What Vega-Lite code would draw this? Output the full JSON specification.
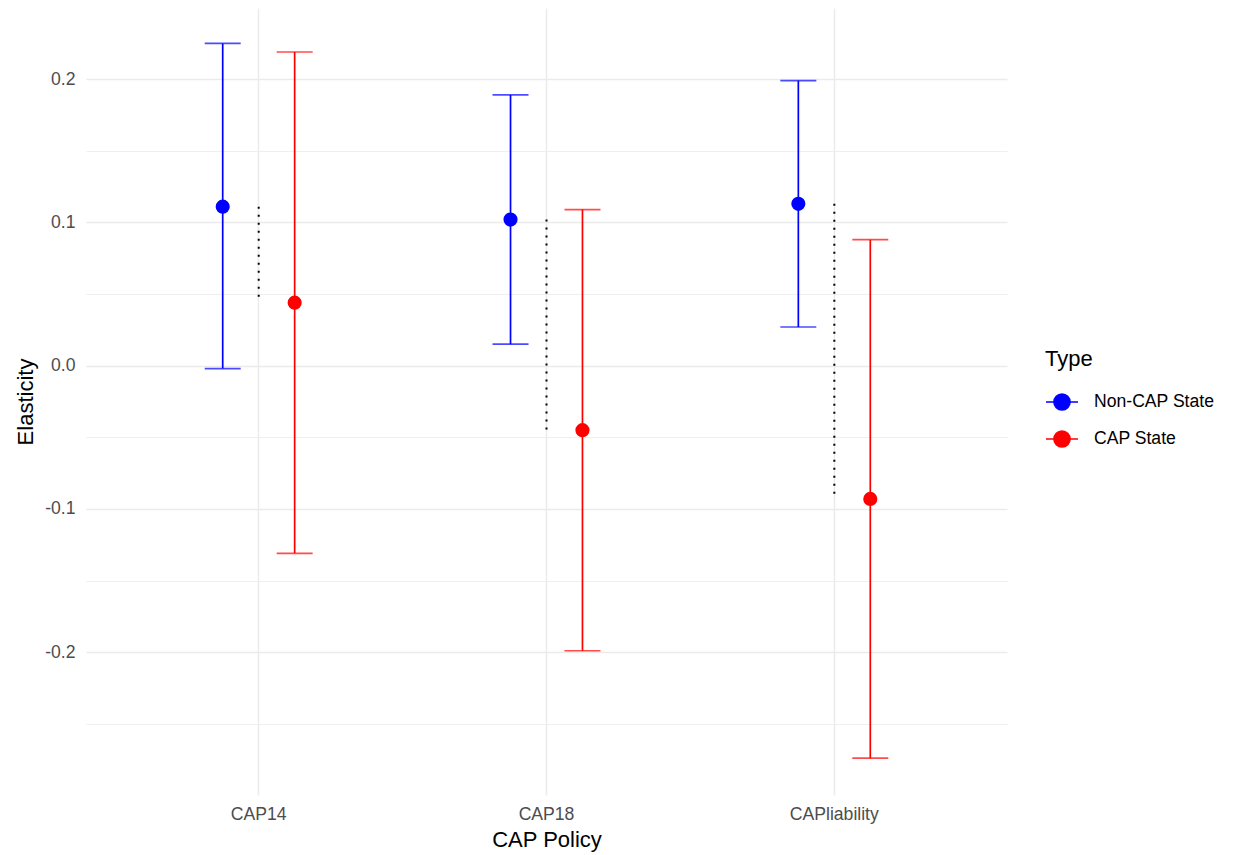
{
  "$schema": "https://vega.github.io/schema/vega-lite/v6.json",
  "width": 921,
  "height": 787,
  "autosize": {"type": "none"},
  "padding": {"left": 86, "top": 8, "right": 226, "bottom": 60},
  "background": "white",
  "config": {
    "view": {"stroke": null},
    "font": "Liberation Sans",
    "axis": {
      "domain": false,
      "ticks": false,
      "gridColor": "#EBEBEB",
      "labelColor": "#4D4D4D",
      "labelFontSize": 17.6,
      "titleFontSize": 22,
      "titleFontWeight": "normal",
      "titleColor": "black"
    },
    "legend": {
      "labelFontSize": 17.6,
      "titleFontSize": 22,
      "titleFontWeight": "normal",
      "labelColor": "black",
      "titleColor": "black"
    }
  },
  "data": {
    "values": [
      {"Policy": "CAP14", "Type": "Non-CAP State", "est": 0.111, "lo": -0.002, "hi": 0.225},
      {"Policy": "CAP14", "Type": "CAP State", "est": 0.044, "lo": -0.131, "hi": 0.219},
      {"Policy": "CAP18", "Type": "Non-CAP State", "est": 0.102, "lo": 0.015, "hi": 0.189},
      {"Policy": "CAP18", "Type": "CAP State", "est": -0.045, "lo": -0.199, "hi": 0.109},
      {"Policy": "CAPliability", "Type": "Non-CAP State", "est": 0.113, "lo": 0.027, "hi": 0.199},
      {"Policy": "CAPliability", "Type": "CAP State", "est": -0.093, "lo": -0.274, "hi": 0.088}
    ]
  },
  "encoding": {
    "x": {
      "field": "Policy",
      "type": "nominal",
      "title": "CAP Policy",
      "scale": {"paddingInner": 0, "paddingOuter": 0.1},
      "axis": {"labelAngle": 0, "labelPadding": 10, "titlePadding": 7, "gridWidth": 1.5, "grid": true}
    }
  },
  "layer": [
    {
      "mark": {"type": "rule", "strokeWidth": 1.7},
      "encoding": {
        "xOffset": {"field": "Type", "type": "nominal", "scale": {"domain": ["Non-CAP State", "CAP State"], "paddingInner": 0, "paddingOuter": 1}},
        "y": {
          "field": "lo",
          "type": "quantitative",
          "title": "Elasticity",
          "scale": {"domain": [-0.2997, 0.2497], "nice": false, "zero": false},
          "axis": {
            "values": [-0.25, -0.2, -0.15, -0.1, -0.05, 0, 0.05, 0.1, 0.15, 0.2],
            "labelExpr": "abs(round(datum.value*20)) % 2 == 1 ? '' : replace(format(datum.value, '.1f'), '\u2212', '-')",
            "gridWidth": {"condition": {"test": "abs(round(datum.value*20)) % 2 == 1", "value": 0.8}, "value": 1.5},
            "labelPadding": 11,
            "titlePadding": 7
          }
        },
        "y2": {"field": "hi"},
        "color": {
          "field": "Type",
          "type": "nominal",
          "scale": {"domain": ["Non-CAP State", "CAP State"], "range": ["#0000FF", "#FF0000"]},
          "legend": {
            "orient": "none",
            "legendX": 959,
            "legendY": 341,
            "padding": 0,
            "symbolType": "M-1,0H1M-0.5,0A0.5,0.5 0 1,1 0.5,0A0.5,0.5 0 1,1 -0.5,0Z",
            "symbolSize": 1024,
            "symbolStrokeWidth": 1.7,
            "rowPadding": 8,
            "labelOffset": 15,
            "titlePadding": 14,
            "encode": {
              "symbols": {
                "update": {
                  "stroke": {"field": "value", "scale": "color"},
                  "fill": {"field": "value", "scale": "color"},
                  "fillOpacity": {"value": 1},
                  "strokeWidth": {"value": 1.7}
                }
              }
            }
          }
        }
      }
    },
    {
      "mark": {"type": "tick", "size": 36, "thickness": 1.7},
      "encoding": {
        "xOffset": {"field": "Type", "type": "nominal"},
        "y": {"field": "lo", "type": "quantitative"},
        "color": {"field": "Type", "type": "nominal"}
      }
    },
    {
      "mark": {"type": "tick", "size": 36, "thickness": 1.7},
      "encoding": {
        "xOffset": {"field": "Type", "type": "nominal"},
        "y": {"field": "hi", "type": "quantitative"},
        "color": {"field": "Type", "type": "nominal"}
      }
    },
    {
      "transform": [{"pivot": "Type", "value": "est", "groupby": ["Policy"]}],
      "mark": {"type": "rule", "strokeWidth": 2, "strokeDash": [2, 6], "color": "black"},
      "encoding": {
        "y": {"field": "Non-CAP State", "type": "quantitative"},
        "y2": {"field": "CAP State"}
      }
    },
    {
      "mark": {"type": "point", "filled": true, "size": 200, "opacity": 1},
      "encoding": {
        "xOffset": {"field": "Type", "type": "nominal"},
        "y": {"field": "est", "type": "quantitative"},
        "color": {"field": "Type", "type": "nominal"}
      }
    }
  ]
}
